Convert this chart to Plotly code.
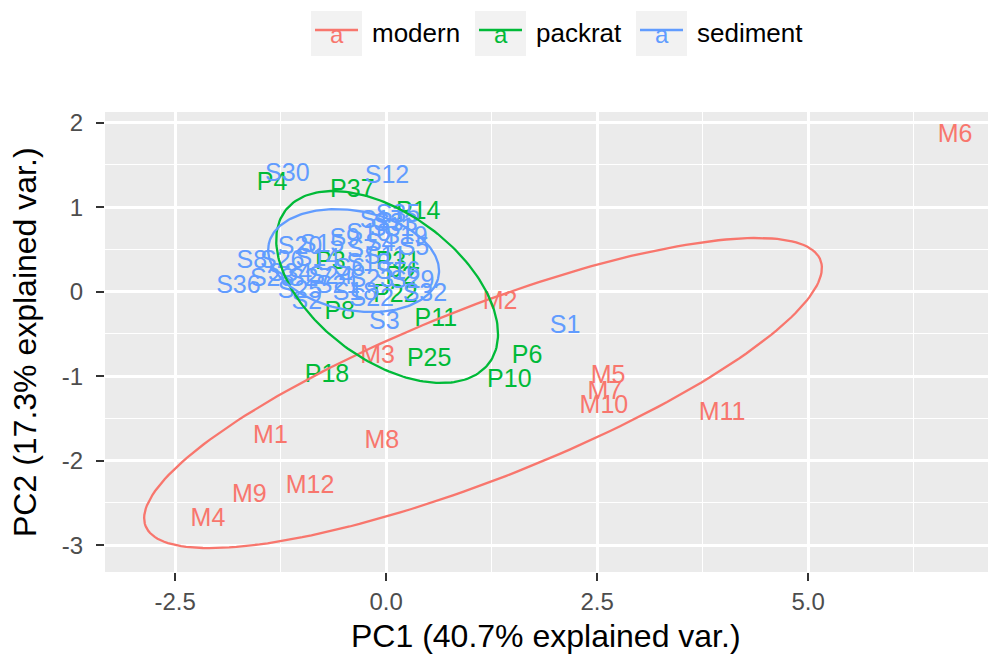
import numpy as np
import plotly.graph_objects as go

# ---------------- data ----------------
modern_labels = ["M1", "M2", "M3", "M4", "M5", "M6", "M7", "M8", "M9", "M10", "M11", "M12"]
modern_pc1 = [-1.37, 1.35, -0.10, -2.11, 2.63, 6.74, 2.59, -0.05, -1.62, 2.58, 3.98, -0.90]
modern_pc2 = [-1.72, -0.13, -0.77, -2.70, -1.01, 1.85, -1.19, -1.77, -2.41, -1.36, -1.44, -2.31]

packrat_labels = ["P4", "P37", "P14", "P11", "P25", "P18", "P6", "P10", "P8", "P22",
                  "P3", "P31", "P2"]
packrat_pc1 = [-1.35, -0.40, 0.38, 0.59, 0.51, -0.70, 1.67, 1.46, -0.55, 0.11,
               -0.66, 0.14, 0.17]
packrat_pc2 = [1.28, 1.20, 0.93, -0.33, -0.81, -1.00, -0.77, -1.05, -0.25, -0.05,
               0.34, 0.34, 0.17]

sediment_labels = ["S1", "S2", "S3", "S4", "S5", "S6", "S7", "S8", "S9", "S10",
                   "S11", "S12", "S13", "S14", "S15", "S16", "S17", "S18", "S19", "S20",
                   "S21", "S22", "S23", "S24", "S25", "S26", "S27", "S28", "S29", "S30",
                   "S31", "S32", "S33", "S34", "S35", "S36"]
sediment_pc1 = [2.12, -0.94, -0.02, -0.07, 0.33, -0.43, -0.28, -1.59, -0.49, -0.21,
                -0.01, 0.01, -0.21, -0.81, -0.76, 0.14, -0.05, -0.37, 0.23, -1.02,
                -0.57, -0.17, -0.17, -0.66, -1.02, -1.23, -0.90, -1.35, 0.31, -1.17,
                0.07, 0.46, 0.11, -1.14, 0.14, -1.75]
sediment_pc2 = [-0.41, -0.13, -0.37, 0.56, 0.51, 0.26, 0.49, 0.35, 0.61, 0.67,
                0.40, 1.36, 0.32, 0.38, 0.55, 0.23, 0.83, -0.02, 0.64, 0.52,
                0.06, -0.10, 0.13, 0.17, 0.00, 0.35, 0.14, 0.14, 0.12, 1.38,
                0.73, -0.03, 0.79, 0.20, 0.90, 0.06]

# ellipse parameters per group: centre, semi-axes, rotation (degrees)
groups = ["modern", "packrat", "sediment"]
colors = ["#F8766D", "#00BA38", "#619CFF"]
ell_cx = [1.148, 0.012, -0.385]
ell_cy = [-1.199, 0.056, 0.369]
ell_a = [4.296, 1.507, 1.024]
ell_b = [1.013, 0.864, 0.589]
ell_angle = [21.5, -36.7, -10.6]

x_title = "PC1 (40.7% explained var.)"
y_title = "PC2 (17.3% explained var.)"
x_tickvals = [-2.5, 0.0, 2.5, 5.0]
x_ticktext = ["-2.5", "0.0", "2.5", "5.0"]
y_tickvals = [-3, -2, -1, 0, 1, 2]
y_ticktext = ["-3", "-2", "-1", "0", "1", "2"]

# ---------------- layout geometry ----------------
W, H = 990, 658
L, R, T, B = 105, 2, 112, 86
PW, PH = W - L - R, H - T - B
FONT = "Liberation Sans, Arial, Helvetica, sans-serif"


def pxx(px):
    return (px - L) / PW


def pxy(py):
    return (H - B - py) / PH


fig = go.Figure()

# text labels
for labels, xs, ys, col in [
    (packrat_labels, packrat_pc1, packrat_pc2, colors[1]),
    (sediment_labels, sediment_pc1, sediment_pc2, colors[2]),
    (modern_labels, modern_pc1, modern_pc2, colors[0]),
]:
    fig.add_trace(go.Scatter(
        x=xs, y=ys, text=labels, mode="text", textposition="middle center",
        textfont=dict(family=FONT, size=25, color=col),
        showlegend=False, hoverinfo="text", cliponaxis=False))

# ellipses
t = np.linspace(-np.pi, np.pi, 200)
for g, col, cx, cy, a, b, ang in zip(groups, colors, ell_cx, ell_cy, ell_a, ell_b, ell_angle):
    th = np.deg2rad(ang)
    ex = cx + a * np.cos(t) * np.cos(th) - b * np.sin(t) * np.sin(th)
    ey = cy + a * np.cos(t) * np.sin(th) + b * np.sin(t) * np.cos(th)
    fig.add_trace(go.Scatter(x=ex, y=ey, mode="lines", name=g,
                             line=dict(color=col, width=2.3), showlegend=False,
                             hoverinfo="skip"))

# ---------------- manual legend (ggplot style) ----------------
shapes = []
annotations = []
key_x0 = [311, 475, 636]
key_w = 51
for g, col, kx in zip(groups, colors, key_x0):
    shapes.append(dict(type="rect", xref="paper", yref="paper",
                       x0=pxx(kx), x1=pxx(kx + key_w), y0=pxy(56), y1=pxy(11),
                       fillcolor="#F2F2F2", line=dict(width=0), layer="below"))
    shapes.append(dict(type="line", xref="paper", yref="paper",
                       x0=pxx(kx + 4), x1=pxx(kx + key_w - 4), y0=pxy(30), y1=pxy(30),
                       line=dict(color=col, width=2.5)))
    annotations.append(dict(xref="paper", yref="paper", x=pxx(kx + key_w / 2), y=pxy(34),
                            text="a", showarrow=False, xanchor="center", yanchor="middle",
                            font=dict(family=FONT, size=24, color=col)))
    annotations.append(dict(xref="paper", yref="paper", x=pxx(kx + key_w + 8), y=pxy(33),
                            text=g, showarrow=False, xanchor="left", yanchor="middle",
                            font=dict(family=FONT, size=26, color="black")))

# axis titles
annotations.append(dict(xref="paper", yref="paper", x=pxx(546), y=pxy(636),
                        text=x_title, showarrow=False, xanchor="center", yanchor="middle",
                        font=dict(family=FONT, size=32, color="black")))
annotations.append(dict(xref="paper", yref="paper", x=pxx(25), y=pxy(342),
                        text=y_title, showarrow=False, xanchor="center", yanchor="middle",
                        textangle=-90, font=dict(family=FONT, size=32, color="black")))

axis_common = dict(
    showgrid=True, gridcolor="white", gridwidth=2.5, zeroline=False,
    showline=False, ticks="outside", ticklen=8, tickwidth=2, tickcolor="#333333",
    tickfont=dict(family=FONT, size=24, color="#4D4D4D"),
)

fig.update_layout(
    width=W, height=H,
    margin=dict(l=L, r=R, t=T, b=B, pad=0),
    paper_bgcolor="white", plot_bgcolor="#EBEBEB",
    showlegend=False,
    xaxis=dict(range=[-3.33, 7.13], tickvals=x_tickvals, ticktext=x_ticktext,
               minor=dict(tickvals=[-1.25, 1.25, 3.75, 6.25], showgrid=True,
                          gridcolor="white", gridwidth=1.3),
               ticklabelstandoff=0, **axis_common),
    yaxis=dict(range=[-3.317, 2.127], tickvals=y_tickvals, ticktext=y_ticktext,
               minor=dict(tickvals=[-2.5, -1.5, -0.5, 0.5, 1.5], showgrid=True,
                          gridcolor="white", gridwidth=1.3),
               ticklabelstandoff=8, **axis_common),
    shapes=shapes, annotations=annotations,
    font=dict(family=FONT),
)

fig.write_html("out.html")
